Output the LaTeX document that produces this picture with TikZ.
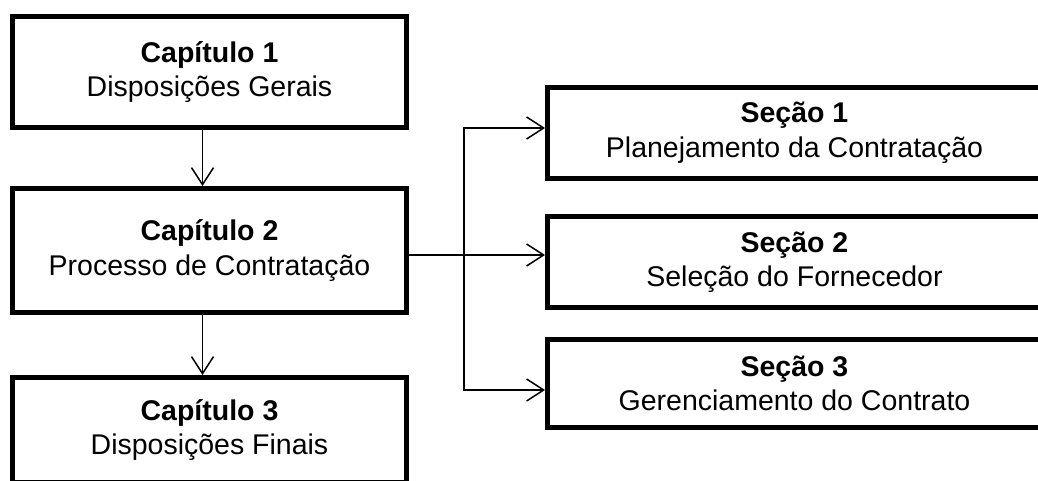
\documentclass[tikz,border=0pt]{standalone}
\usepackage{fontspec}
\setmainfont{Liberation Sans}
\usetikzlibrary{arrows.meta}
\tikzset{barb/.tip={Straight Barb[length=17pt,width=22pt]}}
\begin{document}
\begin{tikzpicture}[x=1pt,y=-1pt,
	box/.style={draw=black, line width=5pt, fill=white, align=center, inner sep=0pt, font=\fontsize{28.5}{34.5}\selectfont},
	chap/.style={box, minimum width=394pt},
	sec/.style={box, minimum width=494pt, minimum height=91pt},
	conn/.style={line width=1.5pt, -barb}]
	\useasboundingbox (0,0) rectangle (1038,481);
	\clip (0,0) rectangle (1038,481);
	\fill [white] (0,0) rectangle (1038,481);
	\node [chap, minimum height=111pt] (cap1) at (209.5,72) {\textbf{Capítulo 1}\\Disposições Gerais};
	\node [chap, minimum height=124pt] (cap2) at (209.5,250.5) {\textbf{Capítulo 2}\\Processo de Contratação};
	\node [chap, minimum height=105pt] (cap3) at (209.5,430) {\textbf{Capítulo 3}\\Disposições Finais};
	\node [sec] (sec1) at (794.5,133) {\textbf{Seção 1}\\Planejamento da Contratação};
	\node [sec] (sec2) at (794.5,262) {\textbf{Seção 2}\\Seleção do Fornecedor};
	\node [sec, minimum height=88pt] (sec3) at (794.5,383.5) {\textbf{Seção 3}\\Gerenciamento do Contrato};
	\coordinate (split) at (464,255);
	\coordinate (fork1) at (464,128);
	\coordinate (fork3) at (464,390);
	\draw [conn] ([xshift=-7pt]cap1.south) -- ([xshift=-7pt]cap2.north);
	\draw [conn] ([xshift=-7pt]cap2.south) -- ([xshift=-7pt]cap3.north);
	\draw [conn] (cap2.east |- split) -- (sec2.west |- split);
	\draw [conn, barb-barb] (sec1.west |- fork1) -- (fork1) -- (fork3) -- (sec3.west |- fork3);
\end{tikzpicture}
\end{document}
